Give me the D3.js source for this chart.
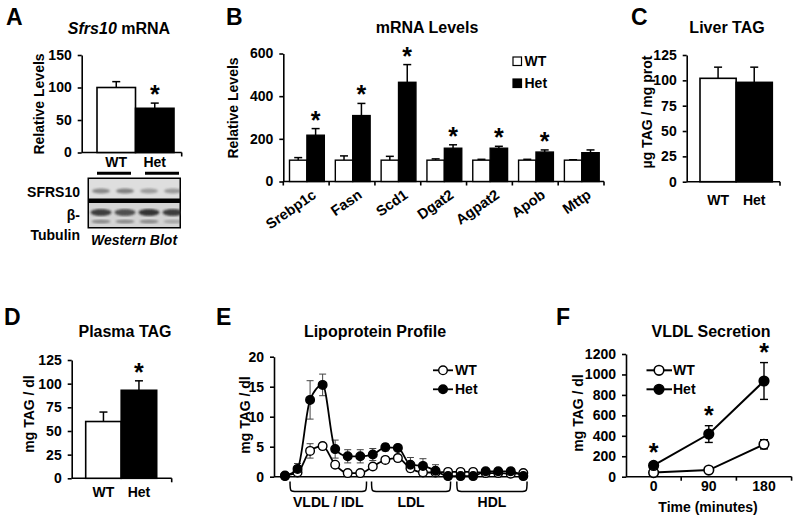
<!DOCTYPE html>
<html><head><meta charset="utf-8">
<script src="https://cdn.jsdelivr.net/npm/d3@7"></script>
<style>
body{margin:0;background:#fff;}
svg{display:block;font-family:"Liberation Sans",Arial,sans-serif;font-weight:bold;}
</style></head><body>
<svg id="chart" width="800" height="522"></svg>
<script>
// ---------------- DATA ----------------
const groups = ["WT", "Het"];
// A: Sfrs10 mRNA
const sfrs10Values = [100, 68];
const sfrs10Errors = [9, 8];
const sfrs10Sig = [false, true];
const sfrs10Ticks = [0, 50, 100, 150];
// A: western blot (relative band intensities)
const blotLanes = ["WT1", "WT2", "Het1", "Het2"];
const blotLaneGroup = ["WT", "WT", "Het", "Het"];
const sfrs10Band = [0.5, 0.55, 0.38, 0.4];
const tubulinBandTop = [0.85, 0.75, 0.9, 0.85];
const tubulinBandLow = [0.45, 0.45, 0.45, 0.28];
// B: mRNA levels
const genes = ["Srebp1c", "Fasn", "Scd1", "Dgat2", "Agpat2", "Apob", "Mttp"];
const geneWT = [100, 100, 100, 100, 100, 100, 100];
const geneWTErr = [12, 20, 18, 6, 4, 4, 2];
const geneHet = [217, 309, 465, 156, 156, 138, 135];
const geneHetErr = [31, 57, 83, 16, 9, 10, 13];
const geneSig = [true, true, true, true, true, true, false];
const geneTicks = [0, 200, 400, 600];
// C: Liver TAG
const liverValues = [102, 98];
const liverErrors = [11, 15];
const liverSig = [false, false];
const tagTicks = [0, 25, 50, 75, 100, 125];
// D: Plasma TAG
const plasmaValues = [60, 93];
const plasmaErrors = [10, 10];
const plasmaSig = [false, true];
// E: Lipoprotein profile
const fractions = [1, 2, 3, 4, 5, 6, 7, 8, 9, 10, 11, 12, 13, 14, 15, 16, 17, 18, 19, 20];
const profileWT = [0.2, 0.7, 4.3, 5.1, 2.0, 0.6, 0.6, 1.7, 2.8, 3.1, 1.4, 0.7, 0.7, 0.8, 0.8, 0.8, 0.6, 0.6, 0.5, 0.6];
const profileWTErr = [0.1, 0.3, 1.2, 0.5, 0.4, 0.2, 0.2, 0.3, 0.5, 0.5, 0.4, 0.2, 0.2, 0.2, 0.2, 0.2, 0.2, 0.2, 0.2, 0.2];
const profileHet = [0.1, 1.3, 12.8, 15.3, 4.6, 3.4, 3.4, 3.7, 4.9, 4.8, 2.0, 1.8, 1.0, 0.1, 0.1, 0.1, 0.9, 0.9, 0.9, 0.1];
const profileHetErr = [0.2, 0.9, 3.2, 1.8, 1.5, 1.1, 1.1, 1.0, 0.6, 0.4, 1.2, 1.2, 1.0, 0.2, 0.2, 0.2, 0.5, 0.5, 0.5, 0.2];
const profileTicks = [0, 5, 10, 15, 20];
const lipoClasses = ["VLDL / IDL", "LDL", "HDL"];
const lipoFrom = [1.4, 7.9, 14.7];
const lipoTo = [7.5, 14.2, 20.3];
// F: VLDL secretion
const times = ["0", "90", "180"];
const secretionWT = [40, 65, 317];
const secretionWTErr = [15, 12, 45];
const secretionHet = [110, 417, 936];
const secretionHetErr = [25, 82, 180];
const secretionSig = [true, true, true];
const secretionTicks = [0, 200, 400, 600, 800, 1000, 1200];

// ---------------- HELPERS ----------------
const svg = d3.select("#chart");
const FONT = "'Liberation Sans', Arial, sans-serif";
const fillOf = g => g === "WT" ? "#fff" : "#000";

function text(x, y, str, size, anchor = "middle", extra = {}) {
  const t = svg.append("text").attr("x", x).attr("y", y).attr("font-size", size)
    .attr("font-weight", "bold").attr("font-family", FONT).attr("text-anchor", anchor).text(str);
  for (const k in extra) t.attr(k, extra[k]);
  return t;
}
function panelLetter(x, y, s) { text(x, y, s, 23, "start"); }
function yTitle(x, y, s) { text(0, 0, s, 14).attr("transform", `translate(${x},${y}) rotate(-90)`); }
function yAxis(x, y, ticks) {
  const g = svg.append("g").attr("transform", `translate(${x},0)`)
    .call(d3.axisLeft(y).tickValues(ticks).tickFormat(d3.format("d")).tickSize(4).tickSizeOuter(0).tickPadding(6));
  g.attr("font-size", 14).attr("font-family", FONT).attr("font-weight", "bold");
  g.selectAll("text").attr("fill", "#000");
  g.selectAll("line,path").attr("stroke", "#000").attr("stroke-width", 1.6);
  return g;
}
function hLine(x0, x1, y, ticksAt = []) {
  svg.append("line").attr("x1", x0).attr("x2", x1).attr("y1", y).attr("y2", y)
    .attr("stroke", "#000").attr("stroke-width", 1.6);
  ticksAt.forEach(tx => svg.append("line").attr("x1", tx).attr("x2", tx).attr("y1", y).attr("y2", y + 4)
    .attr("stroke", "#000").attr("stroke-width", 1.6));
}
function upError(cx, yTop, yErr, half = 4, w = 1.5) {
  svg.append("line").attr("x1", cx).attr("x2", cx).attr("y1", yTop).attr("y2", yErr).attr("stroke", "#000").attr("stroke-width", w);
  svg.append("line").attr("x1", cx - half).attr("x2", cx + half).attr("y1", yErr).attr("y2", yErr).attr("stroke", "#000").attr("stroke-width", w);
}
function star(cx, y) { text(cx, y + 14, "*", 25); }

function simpleBars(cfg) {
  const y = d3.scaleLinear().domain(cfg.domain).range(cfg.yRange);
  const x = d3.scaleBand().domain(groups).range(cfg.barRange).padding(0);
  yAxis(cfg.axisX, y, cfg.ticks);
  hLine(cfg.axisX, cfg.axisEnd, y(0), [cfg.axisEnd]);
  groups.forEach((g, i) => {
    const cx = x(g) + x.bandwidth() / 2;
    upError(cx, y(cfg.values[i]), y(cfg.values[i] + cfg.errors[i]));
    svg.append("rect").attr("x", x(g)).attr("y", y(cfg.values[i])).attr("width", x.bandwidth())
      .attr("height", y(0) - y(cfg.values[i])).attr("fill", fillOf(g)).attr("stroke", "#000").attr("stroke-width", 1.6);
    if (cfg.sig[i]) star(cx, y(cfg.values[i] + cfg.errors[i]) - 14);
    text(cx, cfg.labelY, g, 14);
  });
  return { x, y };
}

// ---------------- PANEL A ----------------
panelLetter(6, 25, "A");
const tA = text(119, 34, "", 16);
tA.append("tspan").attr("font-style", "italic").text("Sfrs10");
tA.append("tspan").text(" mRNA");
yTitle(43.5, 104, "Relative Levels");
simpleBars({ domain: [0, 150], yRange: [152.5, 55], ticks: sfrs10Ticks, barRange: [97, 174], axisX: 81.7, axisEnd: 181.7,
  values: sfrs10Values, errors: sfrs10Errors, sig: sfrs10Sig, labelY: 167 });

// Western blot
const lane = d3.scaleBand().domain(blotLanes).range([89, 185]);
const defs = svg.append("defs");
defs.append("filter").attr("id", "blur").append("feGaussianBlur").attr("stdDeviation", 1.3);
defs.append("clipPath").attr("id", "blotclip").append("rect").attr("x", 87.5).attr("y", 177.5).attr("width", 93.5).attr("height", 51);
["WT", "Het"].forEach(g => {
  const ls = blotLanes.filter((l, i) => blotLaneGroup[i] === g);
  svg.append("line").attr("x1", lane(ls[0]) + 8).attr("x2", lane(ls[ls.length - 1]) + lane.bandwidth() - 6)
    .attr("y1", 173.3).attr("y2", 173.3).attr("stroke", "#000").attr("stroke-width", 3);
});
svg.append("rect").attr("x", 87.5).attr("y", 177.5).attr("width", 93.5).attr("height", 51).attr("fill", "#000");
svg.append("rect").attr("x", 89).attr("y", 179).attr("width", 90.5).attr("height", 19.5).attr("fill", "#dedede");
svg.append("rect").attr("x", 89).attr("y", 203).attr("width", 90.5).attr("height", 24).attr("fill", "#d4d4d4");
const blot = svg.append("g").attr("clip-path", "url(#blotclip)");
blotLanes.forEach((l, i) => {
  const cx = lane(l) + lane.bandwidth() / 2;
  blot.append("ellipse").attr("cx", cx).attr("cy", 191).attr("rx", 9).attr("ry", 2.6)
    .attr("fill", "#333").attr("opacity", sfrs10Band[i]).attr("filter", "url(#blur)");
  blot.append("ellipse").attr("cx", cx).attr("cy", 212.5).attr("rx", 10.5).attr("ry", 3.4)
    .attr("fill", "#222").attr("opacity", tubulinBandTop[i]).attr("filter", "url(#blur)");
  blot.append("ellipse").attr("cx", cx).attr("cy", 221.5).attr("rx", 9.5).attr("ry", 2)
    .attr("fill", "#333").attr("opacity", tubulinBandLow[i]).attr("filter", "url(#blur)");
});
text(80, 197, "SFRS10", 14, "end");
text(80, 220, "β-", 14, "end");
text(80, 240, "Tubulin", 14, "end");
text(134, 245, "Western Blot", 14, "middle", { "font-style": "italic" });

// ---------------- PANEL B ----------------
panelLetter(226, 25, "B");
text(427, 33, "mRNA Levels", 16);
yTitle(237.5, 108, "Relative Levels");
{
  const y = d3.scaleLinear().domain([0, 600]).range([181.5, 53.5]);
  const x = d3.scaleBand().domain(genes).range([283.3, 604]);
  const inner = d3.scaleBand().domain(groups).range([6.2, x.bandwidth() - 4.8]);
  yAxis(283.3, y, geneTicks);
  hLine(283.3, 604, y(0), genes.map(g => x(g) + x.bandwidth()).concat([283.3]));
  genes.forEach((gene, i) => {
    const vals = [geneWT[i], geneHet[i]], errs = [geneWTErr[i], geneHetErr[i]];
    groups.forEach((g, j) => {
      const bx = x(gene) + inner(g), cx = bx + inner.bandwidth() / 2;
      upError(cx, y(vals[j]), y(vals[j] + errs[j]));
      svg.append("rect").attr("x", bx).attr("y", y(vals[j])).attr("width", inner.bandwidth())
        .attr("height", y(0) - y(vals[j])).attr("fill", fillOf(g)).attr("stroke", "#000").attr("stroke-width", 1.4);
      if (g === "Het" && geneSig[i]) star(cx, y(vals[j] + errs[j]) - 14);
    });
    const cx = x(gene) + x.bandwidth() / 2;
    text(0, 0, gene, 14.5, "end").attr("transform", `translate(${cx + 11},${197}) rotate(-35)`);
  });
  // legend
  groups.forEach((g, j) => {
    svg.append("rect").attr("x", 513).attr("y", 57 + j * 22).attr("width", 8.5).attr("height", 8.5)
      .attr("fill", fillOf(g)).attr("stroke", "#000").attr("stroke-width", 1.2);
    text(524.5, 66 + j * 22, g, 14, "start");
  });
}

// ---------------- PANEL C ----------------
panelLetter(631, 25, "C");
text(727, 33, "Liver TAG", 16);
yTitle(652, 112, "µg TAG / mg prot");
simpleBars({ domain: [0, 125], yRange: [181.7, 55], ticks: tagTicks, barRange: [700, 772.3], axisX: 686.7, axisEnd: 780,
  values: liverValues, errors: liverErrors, sig: liverSig, labelY: 205 });

// ---------------- PANEL D ----------------
panelLetter(4, 325, "D");
text(125, 337, "Plasma TAG", 16);
yTitle(33.5, 414, "mg TAG / dl");
simpleBars({ domain: [0, 125], yRange: [478.3, 360], ticks: tagTicks, barRange: [85.7, 156.7], axisX: 71.7, axisEnd: 171.7,
  values: plasmaValues, errors: plasmaErrors, sig: plasmaSig, labelY: 497 });

// ---------------- PANEL E ----------------
panelLetter(216, 325, "E");
text(375, 337, "Lipoprotein Profile", 16);
yTitle(250, 415, "mg TAG / dl");
{
  const y = d3.scaleLinear().domain([0, 20]).range([476.7, 356.7]);
  const x = d3.scaleLinear().domain([1, 20]).range([285, 523.3]);
  yAxis(274, y, profileTicks);
  hLine(274, 528, y(0));
  const series = [
    { v: profileWT, e: profileWTErr, fill: "#fff" },
    { v: profileHet, e: profileHetErr, fill: "#000" }
  ];
  series.forEach(s => {
    fractions.forEach((f, i) => {
      const cx = x(f), y1 = y(s.v[i] + s.e[i]), y2 = y(Math.max(0, s.v[i] - s.e[i]));
      svg.append("line").attr("x1", cx).attr("x2", cx).attr("y1", y1).attr("y2", y2).attr("stroke", "#444").attr("stroke-width", 1);
      [y1, y2].forEach(yy => svg.append("line").attr("x1", cx - 3.5).attr("x2", cx + 3.5).attr("y1", yy).attr("y2", yy).attr("stroke", "#444").attr("stroke-width", 1));
    });
  });
  series.forEach(s => {
    const line = d3.line().x((d, i) => x(fractions[i])).y(d => y(d)).curve(d3.curveMonotoneX);
    svg.append("path").attr("d", line(s.v)).attr("fill", "none").attr("stroke", "#000").attr("stroke-width", 1.8);
    fractions.forEach((f, i) => svg.append("circle").attr("cx", x(f)).attr("cy", y(s.v[i])).attr("r", 4.3)
      .attr("fill", s.fill).attr("stroke", "#000").attr("stroke-width", 1.4));
  });
  // brackets
  lipoClasses.forEach((c, i) => {
    const x0 = x(lipoFrom[i]), x1 = x(lipoTo[i]), t = 481.5, b = 491.5;
    svg.append("path").attr("d", `M${x0},${t} C${x0},${b} ${x0},${b} ${x0 + 7},${b} L${x1 - 7},${b} C${x1},${b} ${x1},${b} ${x1},${t}`)
      .attr("fill", "none").attr("stroke", "#000").attr("stroke-width", 1.5);
    text((x0 + x1) / 2, 507, c, 14);
  });
  // legend
  series.forEach((s, j) => {
    const ly = 370.3 + j * 19;
    svg.append("line").attr("x1", 433).attr("x2", 453).attr("y1", ly).attr("y2", ly).attr("stroke", "#000").attr("stroke-width", 1.8);
    svg.append("circle").attr("cx", 443).attr("cy", ly).attr("r", 4.3).attr("fill", s.fill).attr("stroke", "#000").attr("stroke-width", 1.4);
    text(455, ly + 5, groups[j], 14, "start");
  });
}

// ---------------- PANEL F ----------------
panelLetter(556, 325, "F");
text(711, 337, "VLDL Secretion", 16);
yTitle(583, 413, "mg TAG / dl");
text(708, 512, "Time (minutes)", 14);
{
  const y = d3.scaleLinear().domain([0, 1200]).range([476.7, 354]);
  const xb = d3.scaleBand().domain(times).range([626, 791.6]);
  const x = t => xb(t) + xb.bandwidth() / 2;
  yAxis(626, y, secretionTicks);
  hLine(626, 791.6, y(0), times.map(t => xb(t) + xb.bandwidth()));
  times.forEach(t => text(x(t), 491, t, 14));
  const series = [
    { v: secretionWT, e: secretionWTErr, fill: "#fff" },
    { v: secretionHet, e: secretionHetErr, fill: "#000" }
  ];
  series.forEach(s => {
    times.forEach((t, i) => {
      const cx = x(t), y1 = y(s.v[i] + s.e[i]), y2 = y(Math.max(0, s.v[i] - s.e[i]));
      svg.append("line").attr("x1", cx).attr("x2", cx).attr("y1", y1).attr("y2", y2).attr("stroke", "#000").attr("stroke-width", 1.4);
      [y1, y2].forEach(yy => svg.append("line").attr("x1", cx - 4).attr("x2", cx + 4).attr("y1", yy).attr("y2", yy).attr("stroke", "#000").attr("stroke-width", 1.4));
    });
    const line = d3.line().x((d, i) => x(times[i])).y(d => y(d));
    svg.append("path").attr("d", line(s.v)).attr("fill", "none").attr("stroke", "#000").attr("stroke-width", 2);
    times.forEach((t, i) => svg.append("circle").attr("cx", x(t)).attr("cy", y(s.v[i])).attr("r", 4.8)
      .attr("fill", s.fill).attr("stroke", "#000").attr("stroke-width", 1.6));
  });
  times.forEach((t, i) => { if (secretionSig[i]) star(x(t), y(secretionHet[i] + secretionHetErr[i]) - 16); });
  series.forEach((s, j) => {
    const ly = 370.3 + j * 19;
    svg.append("line").attr("x1", 646.5).attr("x2", 672).attr("y1", ly).attr("y2", ly).attr("stroke", "#000").attr("stroke-width", 2);
    svg.append("circle").attr("cx", 659).attr("cy", ly).attr("r", 4.8).attr("fill", s.fill).attr("stroke", "#000").attr("stroke-width", 1.6);
    text(673, ly + 5, groups[j], 14, "start");
  });
}
</script>
</body></html>
